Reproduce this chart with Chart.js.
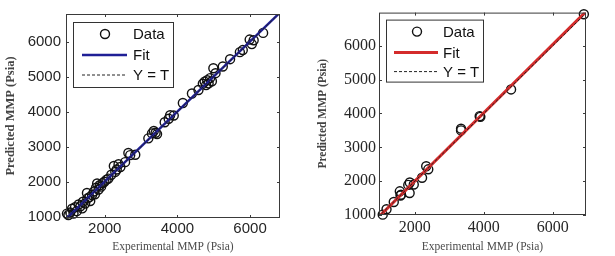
<!DOCTYPE html>
<html>
<head>
<meta charset="utf-8">
<script src="https://cdn.jsdelivr.net/npm/chart.js@4.4.0/dist/chart.umd.min.js"></script>
<style>
  body { margin: 0; background: #fff; }
  .panel { position: absolute; top: 0; height: 256px; }
</style>
</head>
<body>
<div class="panel" style="left:0;width:307px"><canvas id="leftChart" width="307" height="256"></canvas></div>
<div class="panel" style="left:307px;width:308px"><canvas id="rightChart" width="308" height="256"></canvas></div>
<script>
// left panel (blue fit)
const leftExp = [960, 1000, 1050, 1140, 1100, 1180, 1230, 1280, 1330, 1380, 1400, 1460, 1510, 1520, 1580, 1600, 1650, 1700, 1730, 1760,
  1790, 1830, 1860, 1900, 1940, 1990, 2050, 2100, 2180, 2250, 2290, 2330, 2380, 2430, 2560, 2650, 2700, 2840, 3200, 3300,
  3350, 3400, 3440, 3650, 3760, 3800, 3900, 4150, 4400, 4580, 4700, 4750, 4790, 4820, 4860, 4900, 4950, 4990, 5050, 5250,
  5450, 5720, 5800, 5990, 6050, 6100, 6360];
const leftPred = [1090, 1050, 1120, 1090, 1230, 1270, 1160, 1350, 1300, 1240, 1430, 1380, 1680, 1520, 1560, 1450, 1620, 1720, 1640, 1830,
  1950, 1780, 1900, 1860, 1960, 2000, 2060, 2090, 2200, 2450, 2280, 2350, 2500, 2420, 2560, 2820, 2760, 2770, 3240, 3380,
  3450, 3400, 3360, 3700, 3800, 3900, 3890, 4250, 4520, 4620, 4800, 4860, 4760, 4900, 4810, 4960, 4870, 5240, 5100, 5290,
  5500, 5700, 5760, 6060, 5930, 6040, 6250];
const leftFitX = [900, 6900];
const leftFitY = [905, 6905];

// right panel (red fit)
const rightExp = [1070, 1180, 1390, 1565, 1585, 1600, 1810, 1855, 1850, 1970, 2210, 2330, 2390, 3340, 3340, 3880, 3900, 4790, 6900];
const rightPred = [1010, 1170, 1385, 1700, 1575, 1600, 1890, 1960, 1650, 1900, 2100, 2440, 2350, 3550, 3500, 3920, 3900, 4710, 6930];
const rightFitX = [900, 7000];
const rightFitY = [890, 7050];

const identX = [0, 8000];
const identY = [0, 8000];

const xTickValues = [2000, 4000, 6000];
const yTickValues = [1000, 2000, 3000, 4000, 5000, 6000];

const seriesLabels = ['Data', 'Fit', 'Y = T'];
const xTitle = 'Experimental MMP (Psia)';
const yTitle = 'Predicted MMP (Psia)';

const pts = (xs, ys) => xs.map((x, i) => ({ x: x, y: ys[i] }));

// plot frame with inward ticks on all four sides
const boxFrame = {
  id: 'boxFrame',
  afterDatasetsDraw(chart) {
    const { ctx, chartArea: a, scales } = chart;
    ctx.save();
    ctx.strokeStyle = '#3a3a3a';
    ctx.lineWidth = 1;
    ctx.strokeRect(a.left + 0.5, a.top + 0.5, a.right - a.left - 1, a.bottom - a.top - 1);
    ctx.beginPath();
    scales.x.ticks.forEach(t => {
      const px = Math.round(scales.x.getPixelForValue(t.value)) + 0.5;
      ctx.moveTo(px, a.bottom); ctx.lineTo(px, a.bottom - 3);
      ctx.moveTo(px, a.top); ctx.lineTo(px, a.top + 3);
    });
    scales.y.ticks.forEach(t => {
      const py = Math.round(scales.y.getPixelForValue(t.value)) + 0.5;
      ctx.moveTo(a.left, py); ctx.lineTo(a.left + 3, py);
      ctx.moveTo(a.right, py); ctx.lineTo(a.right - 3, py);
    });
    ctx.stroke();
    ctx.restore();
  }
};

// boxed legend inside the plot, like the matlab one
const boxLegend = {
  id: 'boxLegend',
  afterDraw(chart, args, o) {
    const { ctx, chartArea: a } = chart;
    const x = a.left + o.x, y = a.top + o.y;
    ctx.save();
    ctx.fillStyle = '#fff';
    ctx.fillRect(x, y, o.w, o.h);
    ctx.strokeStyle = '#333';
    ctx.lineWidth = 1;
    ctx.strokeRect(x + 0.5, y + 0.5, o.w, o.h);
    ctx.font = '15px "Liberation Sans", Arial, sans-serif';
    ctx.textBaseline = 'middle';
    o.rows.forEach((ry, i) => {
      const ds = chart.data.datasets[i];
      const cy = y + ry;
      ctx.save();
      ctx.strokeStyle = ds.borderColor;
      ctx.lineWidth = ds.borderWidth;
      ctx.beginPath();
      if (ds.showLine) {
        ctx.setLineDash(ds.borderDash || []);
        ctx.moveTo(x + o.lineFrom, cy);
        ctx.lineTo(x + o.lineTo, cy);
      } else {
        ctx.arc(x + o.marker, cy, ds.pointRadius, 0, Math.PI * 2);
      }
      ctx.stroke();
      ctx.restore();
      ctx.fillStyle = '#111';
      ctx.fillText(ds.label, x + o.text, cy + 1);
    });
    ctx.restore();
  }
};

function makeChart(id, p) {
  return new Chart(document.getElementById(id), {
    type: 'scatter',
    data: {
      datasets: [
        {
          label: seriesLabels[0],
          data: pts(p.exp, p.pred),
          pointStyle: 'circle',
          pointRadius: 4.5,
          backgroundColor: 'rgba(0,0,0,0)',
          borderColor: '#111',
          borderWidth: 1.4,
          clip: false,
          order: 3
        },
        {
          label: seriesLabels[1],
          data: pts(p.fitX, p.fitY),
          showLine: true,
          pointRadius: 0,
          borderColor: p.fitColor,
          borderWidth: p.fitWidth,
          order: 2
        },
        {
          label: seriesLabels[2],
          data: pts(identX, identY),
          showLine: true,
          pointRadius: 0,
          borderColor: '#222',
          borderWidth: 1,
          borderDash: [3, 2],
          order: 1
        }
      ]
    },
    options: {
      responsive: false,
      animation: false,
      devicePixelRatio: 1,
      layout: { padding: { top: p.padTop, right: p.padRight, left: 0, bottom: 0 } },
      plugins: {
        legend: { display: false },
        tooltip: { enabled: false },
        boxLegend: p.legend
      },
      scales: {
        x: {
          type: 'linear',
          min: p.xMin,
          max: p.xMax,
          afterBuildTicks: s => { s.ticks = xTickValues.map(v => ({ value: v })); },
          afterFit: s => { s.height = p.xHeight; },
          grid: { display: false, drawTicks: false },
          border: { display: false },
          ticks: { font: p.tickFont, color: '#262626', padding: p.xTickPad, maxRotation: 0, callback: v => String(v) },
          title: { display: true, text: xTitle, color: '#4a4a4a', font: { family: '"Liberation Serif", "Times New Roman", serif', size: 11.5 }, padding: { top: 0, bottom: 2 } }
        },
        y: {
          type: 'linear',
          min: p.yMin,
          max: p.yMax,
          afterBuildTicks: s => { s.ticks = yTickValues.map(v => ({ value: v })); },
          afterFit: s => { s.width = p.yWidth; },
          grid: { display: false, drawTicks: false },
          border: { display: false },
          ticks: { font: p.tickFont, color: '#262626', padding: p.yTickPad, callback: v => String(v) },
          title: { display: true, text: yTitle, color: '#444', font: { family: '"Liberation Serif", "Times New Roman", serif', size: p.yTitleSize, weight: 'bold' }, padding: { top: p.yTitlePad, bottom: 0 } }
        }
      }
    },
    plugins: [boxFrame, boxLegend]
  });
}

makeChart('leftChart', {
  exp: leftExp, pred: leftPred, fitX: leftFitX, fitY: leftFitY,
  fitColor: '#1f1f96', fitWidth: 2.5,
  xMin: 933, xMax: 6825, yMin: 965, yMax: 6790,
  padTop: 4, padRight: 27, xHeight: 38, yWidth: 66,
  tickFont: { family: '"Liberation Sans", Arial, sans-serif', size: 15 },
  xTickPad: 2, yTickPad: 5,
  yTitleSize: 12.5, yTitlePad: 3,
  legend: { x: 7, y: 8, w: 100, h: 65, rows: [12, 33, 53], marker: 32, lineFrom: 9, lineTo: 54, text: 60 }
});

makeChart('rightChart', {
  exp: rightExp, pred: rightPred, fitX: rightFitX, fitY: rightFitY,
  fitColor: '#d42b2b', fitWidth: 3,
  xMin: 962, xMax: 6962, yMin: 1000, yMax: 6980,
  padTop: 8, padRight: 29, xHeight: 41, yWidth: 72,
  tickFont: { family: '"Liberation Serif", "Times New Roman", serif', size: 16 },
  xTickPad: 3, yTickPad: 3,
  yTitleSize: 11.5, yTitlePad: 9,
  legend: { x: 7, y: 7, w: 97, h: 62, rows: [12, 33, 52], marker: 31, lineFrom: 8, lineTo: 52, text: 57 }
});
</script>
</body>
</html>
